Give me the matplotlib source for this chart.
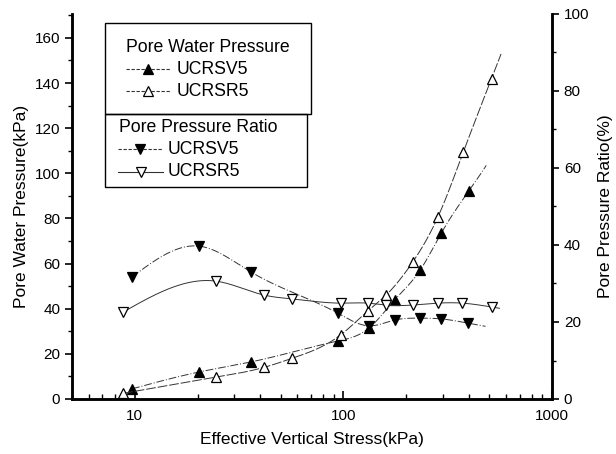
import numpy as np
import matplotlib
matplotlib.use("Agg")
from matplotlib import pyplot as plt
from matplotlib.lines import Line2D
from matplotlib.patches import Rectangle
from matplotlib.ticker import MultipleLocator

plt.rcParams["font.family"] = ["Liberation Sans", "DejaVu Sans"]

# Pore water pressure (kPa), left axis
pwp_v5_x = [9.7, 20.4, 36, 94, 133, 176, 233, 295, 398]
pwp_v5_y = [4.5, 12, 16.4, 25.7, 31.5, 43.9, 57, 73.6, 92]
pwp_r5_x = [8.8, 24.6, 41.6, 56.6, 97, 131, 160, 215, 284, 376, 513]
pwp_r5_y = [2.5, 9.7, 14, 18, 28.4, 39, 46, 60.7, 80.7, 109.5, 142]

# Pore pressure ratio (%), right axis
ppr_v5_x = [9.7, 20.4, 36, 94, 133, 176, 233, 295, 395]
ppr_v5_y = [31.7, 39.7, 33, 22.3, 19, 20.5, 21, 20.8, 19.7]
ppr_r5_x = [8.8, 24.6, 41.6, 56.6, 97, 131, 160, 215, 284, 372, 513]
ppr_r5_y = [22.6, 30.6, 27, 26, 24.9, 24.9, 24.4, 24.4, 24.9, 24.9, 23.9]


def spline(xs, ys, x_end, n=300):
    # natural cubic spline in log10(x), drawn a bit past the last point
    t = np.log10(np.asarray(xs, float))
    y = np.asarray(ys, float)
    k = len(t)
    h = np.diff(t)
    A = np.zeros((k, k))
    b = np.zeros(k)
    A[0, 0] = A[-1, -1] = 1
    for i in range(1, k - 1):
        A[i, i - 1] = h[i - 1]
        A[i, i] = 2 * (h[i - 1] + h[i])
        A[i, i + 1] = h[i]
        b[i] = 3 * ((y[i + 1] - y[i]) / h[i] - (y[i] - y[i - 1]) / h[i - 1])
    c = np.linalg.solve(A, b)
    tt = np.linspace(t[0], np.log10(x_end), n)
    out = []
    for v in tt:
        i = min(max(np.searchsorted(t, v) - 1, 0), k - 2)
        d = v - t[i]
        bb = (y[i + 1] - y[i]) / h[i] - h[i] * (2 * c[i] + c[i + 1]) / 3
        dd = (c[i + 1] - c[i]) / (3 * h[i])
        out.append(y[i] + bb * d + c[i] * d ** 2 + dd * d ** 3)
    return 10 ** tt, np.array(out)


W, H = 616, 454
fig = plt.figure(figsize=(W / 100, H / 100), dpi=100)
ax = fig.add_axes([72 / W, 1 - 399 / H, 480 / W, 385 / H])
ax2 = ax.twinx()

lc = "#333333"
mk = dict(markersize=7, markeredgecolor="black", markeredgewidth=0.9, linestyle="none")

x, y = spline(pwp_v5_x, pwp_v5_y, 484)
ax.plot(x, y, color=lc, lw=0.7, ls=(0, (8, 2, 1, 2)))
ax.plot(pwp_v5_x, pwp_v5_y, marker="^", color="black", **mk)
x, y = spline(pwp_r5_x, pwp_r5_y, 570)
ax.plot(x, y, color=lc, lw=0.7, ls=(0, (10, 2)))
ax.plot(pwp_r5_x, pwp_r5_y, marker="^", markerfacecolor="white", **mk)

x, y = spline(ppr_v5_x, ppr_v5_y, 480)
ax2.plot(x, y, color=lc, lw=0.7, ls=(0, (8, 2, 1, 2)))
ax2.plot(ppr_v5_x, ppr_v5_y, marker="v", color="black", **mk)
x, y = spline(ppr_r5_x, ppr_r5_y, 560)
ax2.plot(x, y, color=lc, lw=0.7, ls="-")
ax2.plot(ppr_r5_x, ppr_r5_y, marker="v", markerfacecolor="white", **mk)

ax.set_xscale("log")
ax.set_xlim(5, 1000)
ax.set_ylim(0, 170.6)
ax2.set_ylim(0, 100)
ax.set_xticks([10, 100, 1000])
ax.set_xticklabels(["10", "100", "1000"])
ax.yaxis.set_major_locator(MultipleLocator(20))
ax.yaxis.set_minor_locator(MultipleLocator(10))
ax2.yaxis.set_major_locator(MultipleLocator(20))
ax2.yaxis.set_minor_locator(MultipleLocator(10))

for a in (ax, ax2):
    a.spines["top"].set_visible(False)
    for s in ("left", "right", "bottom"):
        a.spines[s].set_linewidth(1.8)
ax.tick_params(axis="x", which="major", direction="in", length=6, width=1.2, labelsize=11, pad=7)
ax.tick_params(axis="x", which="minor", direction="in", length=3.5, width=1)
ax.tick_params(axis="y", which="major", direction="out", length=5, width=1.2, labelsize=11)
ax.tick_params(axis="y", which="minor", direction="out", length=3, width=1)
ax2.tick_params(axis="y", which="major", direction="out", length=5, width=1.2, labelsize=11)
ax2.tick_params(axis="y", which="minor", direction="out", length=3, width=1)

ax.set_xlabel("Effective Vertical Stress(kPa)", fontsize=12.5, labelpad=7)
ax.set_ylabel("Pore Water Pressure(kPa)", fontsize=12.5, labelpad=4)
ax2.set_ylabel("Pore Pressure Ratio(%)", fontsize=12.5, rotation=90, labelpad=6)


# legend boxes, drawn in figure pixels
def fx(px):
    return px / W


def fy(py):
    return 1 - py / H


fig.patches.append(Rectangle((fx(105), fy(114)), fx(311) - fx(105), fy(23) - fy(114),
                             transform=fig.transFigure, fill=False, ec="black", lw=1))
fig.patches.append(Rectangle((fx(105), fy(187)), fx(307) - fx(105), fy(114) - fy(187),
                             transform=fig.transFigure, fill=False, ec="black", lw=1))

fs = 12.7
fig.text(fx(126), fy(47), "Pore Water Pressure", fontsize=fs, va="center")
fig.text(fx(119), fy(127), "Pore Pressure Ratio", fontsize=fs, va="center")

entries = [
    (126, 170, 69, "^", "black", (0, (3, 1.5)), "UCRSV5", 177),
    (126, 170, 91, "^", "white", (0, (3, 1.5)), "UCRSR5", 177),
    (118, 162, 149, "v", "black", (0, (3, 1.5)), "UCRSV5", 168),
    (118, 163, 172, "v", "white", "-", "UCRSR5", 168),
]
for x0, x1, yy, m, fc, ls, lab, tx in entries:
    fig.lines.append(Line2D([fx(x0), fx(x1)], [fy(yy), fy(yy)], transform=fig.transFigure,
                            color=lc, lw=0.8, ls=ls))
    fig.lines.append(Line2D([fx((x0 + x1) / 2)], [fy(yy)], transform=fig.transFigure,
                            marker=m, markersize=7.5, markerfacecolor=fc,
                            markeredgecolor="black", markeredgewidth=0.9))
    fig.text(fx(tx), fy(yy), lab, fontsize=fs, va="center")

fig.savefig("out.png", dpi=100)
